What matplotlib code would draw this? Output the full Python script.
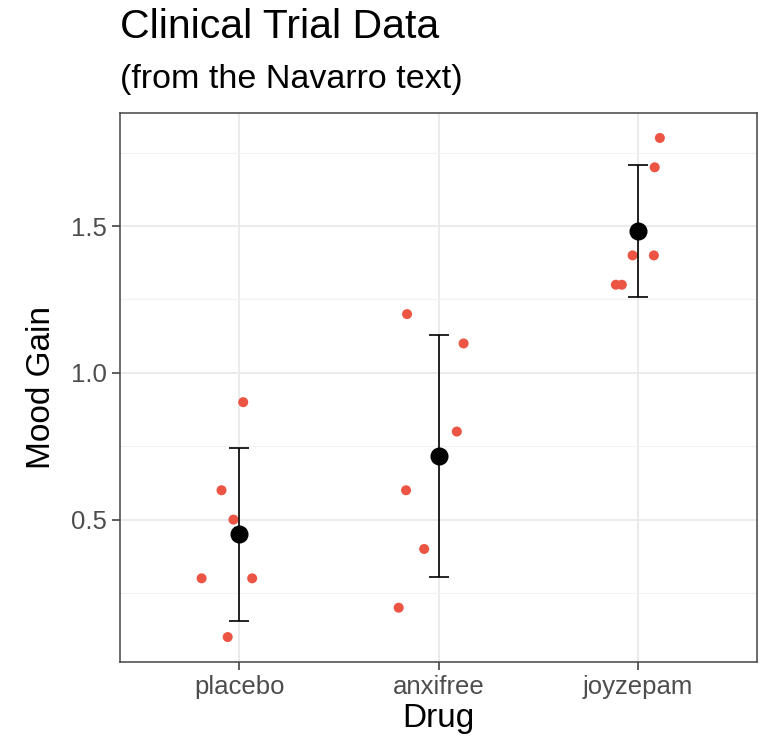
import numpy as np
import matplotlib
matplotlib.use("Agg")
import matplotlib.pyplot as plt
from matplotlib.ticker import MultipleLocator

plt.rcParams['font.family'] = ['Liberation Sans', 'DejaVu Sans']

# clinical trial data (Navarro)
drugs = ["placebo", "anxifree", "joyzepam"]
mood_gain = {
    "placebo": [0.9, 0.6, 0.5, 0.3, 0.3, 0.1],
    "anxifree": [1.2, 1.1, 0.8, 0.6, 0.4, 0.2],
    "joyzepam": [1.8, 1.7, 1.4, 1.4, 1.3, 1.3],
}
# horizontal jitter
jitter = {
    "placebo": [0.019, -0.09, -0.03, -0.19, 0.064, -0.059],
    "anxifree": [-0.158, 0.126, 0.092, -0.163, -0.072, -0.2],
    "joyzepam": [0.112, 0.086, -0.025, 0.082, -0.109, -0.079],
}
t_crit = 2.5706  # t quantile, df = 5, 95% CI

W, H = 760, 743
fig = plt.figure(figsize=(W / 100, H / 100), dpi=100)
ax = fig.add_axes([120 / W, 1 - 662 / H, 637 / W, 549 / H])

means, errs = [], []
for i, d in enumerate(drugs):
    vals = np.array(mood_gain[d])
    xs = i + 1 + np.array(jitter[d])
    ax.scatter(xs, vals, s=52, color="#EC5444", edgecolors="none", zorder=2)
    means.append(vals.mean())
    errs.append(t_crit * vals.std(ddof=1) / np.sqrt(len(vals)))

pos = np.arange(1, len(drugs) + 1)
ax.errorbar(pos, means, yerr=errs, fmt="none", ecolor="black",
            elinewidth=1.2, capsize=7.2, capthick=1.2, zorder=3)
ax.plot(pos, means, "o", color="black", markersize=12, zorder=4)

ax.set_xlim(0.4, 3.6)
ax.set_ylim(0.015, 1.885)
ax.set_xticks(pos)
ax.set_xticklabels(drugs)
ax.yaxis.set_major_locator(MultipleLocator(0.5))
ax.yaxis.set_minor_locator(MultipleLocator(0.25))
ax.set_yticks([0.5, 1.0, 1.5])
ax.set_yticklabels(["0.5", "1.0", "1.5"])

ax.grid(which="major", color="#EBEBEB", linewidth=1.4, zorder=0)
ax.yaxis.grid(which="minor", color="#F2F2F2", linewidth=0.8, zorder=0)
ax.set_axisbelow(True)
ax.tick_params(which="major", length=5.5, width=1.1, color="#333333",
               labelsize=18.5, labelcolor="#4D4D4D", pad=4)
ax.tick_params(which="minor", length=0)
for s in ax.spines.values():
    s.set_color("#444444")
    s.set_linewidth(1.1)

ax.set_xlabel("Drug", fontsize=24, labelpad=3)
ax.set_ylabel("Mood Gain", fontsize=24, labelpad=10)

fig.text(120 / W, 1 - 38 / H, "Clinical Trial Data", fontsize=29.5,
         ha="left", va="baseline")
fig.text(120 / W, 1 - 88 / H, "(from the Navarro text)", fontsize=24.5,
         ha="left", va="baseline")

fig.savefig("out.png", dpi=100, facecolor="white")
